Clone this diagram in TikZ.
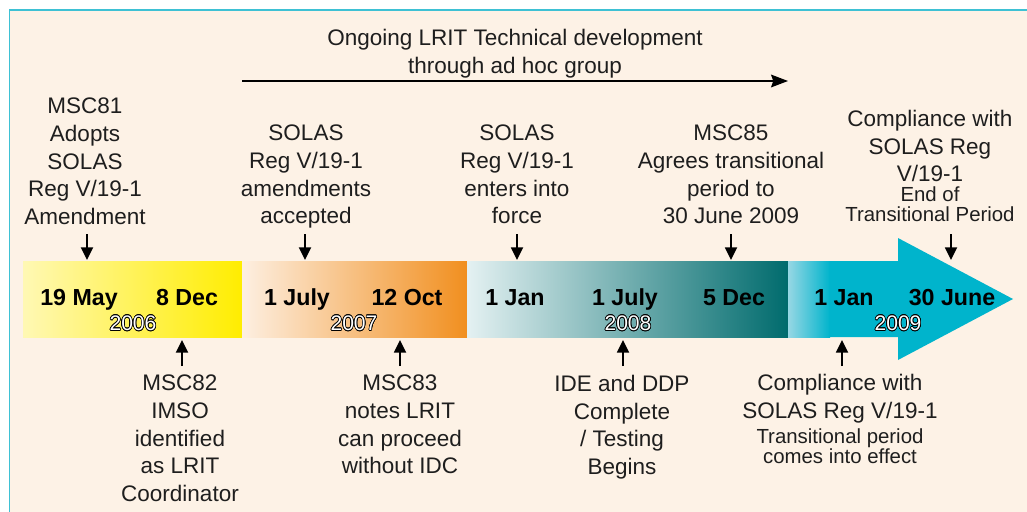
\documentclass[tikz,border=0pt]{standalone}
\usepackage{fontspec}
\setmainfont{Liberation Sans}
\usepackage{contour}
\contourlength{0.45pt}
\usetikzlibrary{arrows.meta}

\definecolor{cream}{HTML}{FDF2E6}
\definecolor{rim}{HTML}{3EC1D4}
\definecolor{ink}{HTML}{1E1E1E}
\definecolor{yelpale}{HTML}{FFF8B4}
\definecolor{yel}{HTML}{FFED00}
\definecolor{orgpale}{HTML}{FDEFE1}
\definecolor{org}{HTML}{F18F1F}
\definecolor{tealpale}{HTML}{E4F1F2}
\definecolor{teal}{HTML}{006B6D}
\definecolor{aquapale}{HTML}{96D7E4}
\definecolor{aqua}{HTML}{00B4CC}

\newcommand{\lessfont}{\fontsize{14.5}{17}\selectfont}

\begin{document}
\begin{tikzpicture}[x=0.025cm,y=-0.025cm,
  txt/.style={align=center,inner sep=0pt,anchor=north,text=ink,font=\fontsize{16}{19.56}\selectfont},
  date/.style={inner sep=0pt,anchor=base,font=\fontsize{16.5}{18}\selectfont\bfseries},
  yr/.style={inner sep=0pt,anchor=base,text=white,font=\fontsize{15}{18}\selectfont},
  tick/.style={-{Triangle[length=9pt,width=8.5pt]},line width=1.4pt}]
\useasboundingbox (0,0) rectangle (1027,512);
\fill[white] (0,0) rectangle (1027,512);
\fill[cream] (9.5,10) rectangle (1027,512);
\draw[rim,line width=1.1pt] (9.5,512) -- (9.5,10) -- (1027,10);

% the years as coloured bands, 2009 ending in the arrow head
\shade[left color=yelpale,right color=yel] (23,261) rectangle (242,337);
\shade[left color=orgpale,right color=org] (242,261) rectangle (467,337);
\shade[left color=tealpale,right color=teal] (467,261) rectangle (788,337);
\shade[left color=aquapale,right color=aqua] (788,261) rectangle (830,337);
\fill[aqua] (829.5,261) -- (898,261) -- (898,238) -- (1013,299) -- (898,360)
  -- (898,337) -- (829.5,337) -- cycle;

% dates and years
\node[date] (d-may06) at (79,305) {19 May};
\node[date] (d-dec06) at (187,305) {8 Dec};
\node[date] (d-jul07) at (297,305) {1 July};
\node[date] (d-oct07) at (407,305) {12 Oct};
\node[date] (d-jan08) at (515,305) {1 Jan};
\node[date] (d-jul08) at (625,305) {1 July};
\node[date] (d-dec08) at (734,305) {5 Dec};
\node[date] (d-jan09) at (844,305) {1 Jan};
\node[date] (d-jun09) at (952,305) {30 June};
\node[yr] (y2006) at (133,330.5) {\contour{black}{2006}};
\node[yr] (y2007) at (354,330.5) {\contour{black}{2007}};
\node[yr] (y2008) at (628,330.5) {\contour{black}{2008}};
\node[yr] (y2009) at (898,330.5) {\contour{black}{2009}};

% ad hoc group
\node[txt] (adhoc) at (515,29) {Ongoing LRIT Technical development\\through ad hoc group};
\coordinate (adhocL) at (242,81);
\coordinate (adhocR) at (788,81);
\draw[-{Stealth[length=12pt,width=9pt,inset=1.5pt]},line width=1.3pt] (adhocL) -- (adhocR);

% events above the bar
\node[txt] (msc81) at (85,98) {MSC81\\Adopts\\SOLAS\\Reg V/19-1\\Amendment};
\node[txt] (solasacc) at (306,125) {SOLAS\\Reg V/19-1\\amendments\\accepted};
\node[txt] (solasforce) at (517,125) {SOLAS\\Reg V/19-1\\enters into\\force};
\node[txt] (msc85) at (731,125) {MSC85\\Agrees transitional\\period to\\30 June 2009};
\node[txt] (endtrans) at (930,110) {Compliance with\\SOLAS Reg\\V/19-1\\[-5.3pt]{\lessfont End of}\\[-5.3pt]{\lessfont Transitional Period}};

% events below the bar
\node[txt] (msc82) at (180,375) {MSC82\\IMSO\\identified\\as LRIT\\Coordinator};
\node[txt] (msc83) at (400,375) {MSC83\\notes LRIT\\can proceed\\without IDC};
\node[txt] (idetest) at (622,375) {IDE and DDP\\Complete\\/ Testing\\Begins};
\node[txt] (starttrans) at (840,374) {Compliance with\\SOLAS Reg V/19-1\\[-1.8pt]{\lessfont Transitional period}\\[-5.3pt]{\lessfont comes into effect}};

% pointers onto the bar
\coordinate (hi) at (0,234);
\coordinate (lo) at (0,366);
\foreach \n/\x in {may06/87,jul07/305,jan08/517,dec08/731,jun09/951}{
  \coordinate (at-\n) at (\x,260);
  \draw[tick] (at-\n |- hi) -- (at-\n);
}
\foreach \n/\x in {dec06/182,oct07/400,jul08/623,jan09/842}{
  \coordinate (at-\n) at (\x,340);
  \draw[tick] (at-\n |- lo) -- (at-\n);
}
\end{tikzpicture}
\end{document}
